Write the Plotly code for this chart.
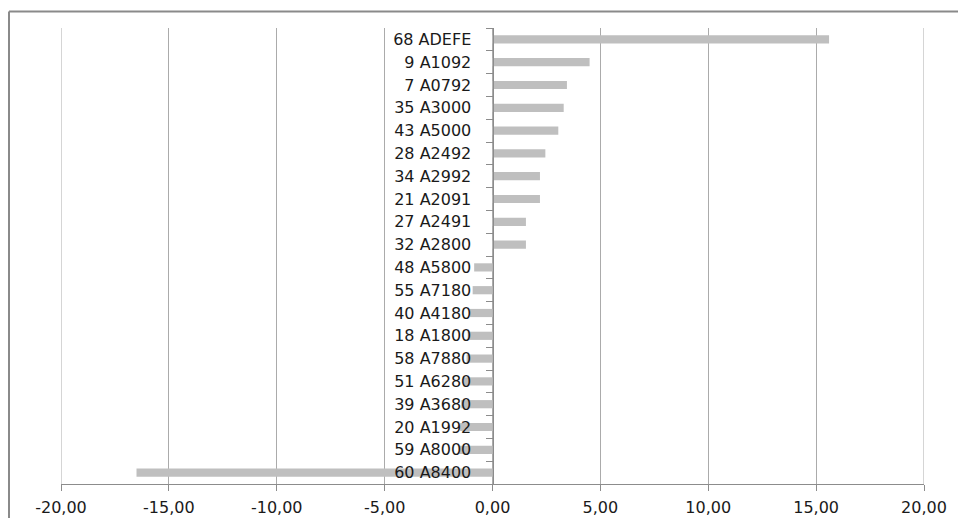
import plotly.graph_objects as go

# Categories listed top to bottom
categories = ["68 ADEFE", "9 A1092", "7 A0792", "35 A3000", "43 A5000",
              "28 A2492", "34 A2992", "21 A2091", "27 A2491", "32 A2800",
              "48 A5800", "55 A7180", "40 A4180", "18 A1800", "58 A7880",
              "51 A6280", "39 A3680", "20 A1992", "59 A8000", "60 A8400"]
values = [15.6, 4.5, 3.45, 3.3, 3.05,
          2.45, 2.2, 2.2, 1.55, 1.55,
          -0.85, -0.92, -1.05, -1.15, -1.2,
          -1.35, -1.45, -1.5, -1.55, -16.5]

x_ticks = [-20, -15, -10, -5, 0, 5, 10, 15, 20]
x_tick_text = [f"{v:.2f}".replace(".", ",") for v in x_ticks]

FONT = "DejaVu Sans"
AXIS_GRAY = "#8C8C8C"
GRID_GRAY = "#ABABAB"

fig = go.Figure(go.Bar(
    x=values,
    y=categories,
    orientation="h",
    marker=dict(color="#BFBFBF", line=dict(width=0)),
    hoverinfo="x+y",
))

W, H = 958, 518
L, R, T, B = 61, 34, 28, 34
pw, ph = W - L - R, H - T - B

fig.update_layout(
    width=W, height=H,
    margin=dict(l=L, r=R, t=T, b=B, autoexpand=False),
    paper_bgcolor="white",
    plot_bgcolor="white",
    bargap=0.64,
    showlegend=False,
    font=dict(family=FONT, size=16, color="#1a1a1a"),
    xaxis=dict(
        range=[x_ticks[0], x_ticks[-1]],
        tickmode="array",
        tickvals=x_ticks,
        ticktext=x_tick_text,
        showgrid=True, gridcolor=GRID_GRAY, gridwidth=1,
        zeroline=False,
        showline=True, linecolor=AXIS_GRAY, linewidth=1,
        ticks="outside", ticklen=6, tickcolor=AXIS_GRAY,
        ticklabelstandoff=3,
        tickfont=dict(family=FONT, size=16, color="#1a1a1a"),
        automargin=False,
        fixedrange=True,
    ),
    yaxis=dict(
        type="category",
        categoryorder="array",
        categoryarray=categories,
        autorange="reversed",
        anchor="free",
        position=0.5,
        showgrid=False,
        zeroline=False,
        showline=True, linecolor=AXIS_GRAY, linewidth=1,
        ticks="outside", ticklen=7, tickcolor=AXIS_GRAY,
        tickson="boundaries",
        ticklabelstandoff=18,
        tickfont=dict(family=FONT, size=16, color="#1a1a1a"),
        automargin=False,
        fixedrange=True,
    ),
)

# Gridlines at both ends of the value axis (Plotly omits them at the range edges)
for xv in (x_ticks[0], x_ticks[-1]):
    fig.add_shape(type="line", xref="x", yref="paper",
                  x0=xv, x1=xv, y0=0, y1=1, layer="below",
                  line=dict(color=GRID_GRAY, width=1))

# Chart-area frame: left and top edges
left_x = (9 - L) / pw
top_y = 1 + (T - 11.5) / ph
frame = dict(color="#8A8A8A", width=2)
fig.add_shape(type="line", xref="paper", yref="paper",
              x0=left_x, x1=left_x, y0=top_y, y1=-0.2, line=frame)
fig.add_shape(type="line", xref="paper", yref="paper",
              x0=left_x, x1=1.2, y0=top_y, y1=top_y, line=frame)

fig.write_html("out.html")
